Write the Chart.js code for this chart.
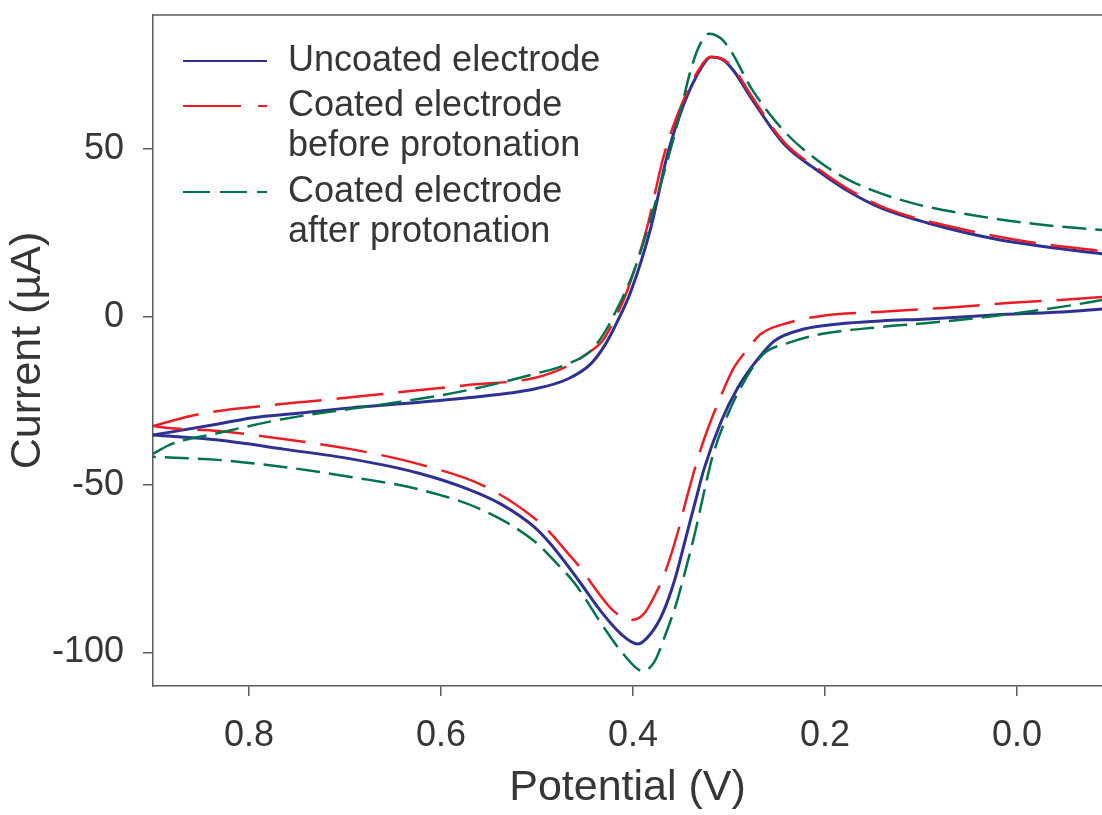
<!DOCTYPE html>
<html>
<head>
<meta charset="utf-8">
<title>Cyclic voltammograms</title>
<script src="https://cdn.jsdelivr.net/npm/chart.js@4"></script>
<style>
  html, body { margin: 0; padding: 0; background: #fff; }
  #wrap { position: relative; width: 1102px; height: 815px; }
</style>
</head>
<body>
<div id="wrap"><canvas id="cv"></canvas></div>
<script>
// Cyclic voltammograms. Each curve is split into its forward scan (0.9 V -> -0.09 V)
// and its reverse scan (-0.09 V -> 0.9 V) so each half is monotone in x.

var uncoatedForwardV = [0.900, 0.832, 0.798, 0.746, 0.694, 0.642, 0.572, 0.503, 0.468, 0.444, 0.428, 0.416, 0.402, 0.381, 0.364, 0.347, 0.329, 0.319, 0.306, 0.295, 0.277, 0.243, 0.207, 0.173, 0.142, 0.093, 0.024, -0.046, -0.090];
var uncoatedForwardI = [-35.2, -31.9, -30.1, -28.6, -27.1, -25.9, -24.1, -21.5, -18.5, -14.0, -7.8, -1.2, 7.8, 27.1, 48.6, 63.5, 74.2, 77.5, 76.6, 73.3, 65.3, 51.6, 43.5, 37.0, 32.5, 28.0, 23.3, 20.3, 18.8];
var uncoatedReverseV = [-0.090, -0.046, 0.024, 0.093, 0.142, 0.186, 0.222, 0.253, 0.274, 0.291, 0.308, 0.326, 0.335, 0.344, 0.356, 0.369, 0.381, 0.395, 0.4125, 0.433, 0.457, 0.485, 0.503, 0.5375, 0.572, 0.624, 0.694, 0.764, 0.832, 0.900];
var uncoatedReverseI = [2.4, 1.5, 0.6, -0.6, -1.2, -2.1, -3.6, -7.2, -14.0, -21.2, -31.0, -45.3, -54.9, -64.7, -77.8, -88.3, -94.2, -97.5, -94.5, -87.9, -78.4, -68.0, -62.6, -55.8, -51.3, -46.5, -42.3, -39.4, -36.7, -35.2];

var beforeForwardV = [0.900, 0.851, 0.764, 0.730, 0.642, 0.572, 0.503, 0.468, 0.448, 0.432, 0.420, 0.406, 0.385, 0.368, 0.350, 0.331, 0.320, 0.307, 0.295, 0.277, 0.243, 0.207, 0.173, 0.135, 0.058, -0.011, -0.090];
var beforeForwardI = [-32.5, -28.9, -25.9, -25.0, -22.4, -20.3, -18.2, -14.6, -11.0, -7.2, -1.2, 7.8, 27.1, 48.0, 62.9, 73.9, 77.5, 76.9, 74.0, 66.0, 52.2, 44.1, 37.6, 32.2, 26.2, 22.4, 19.6];
var beforeReverseV = [-0.090, -0.0635, 0.006, 0.076, 0.145, 0.204, 0.239, 0.267, 0.282, 0.295, 0.311, 0.329, 0.345, 0.353, 0.366, 0.374, 0.389, 0.402, 0.420, 0.459, 0.468, 0.485, 0.503, 0.555, 0.624, 0.694, 0.764, 0.832, 0.884, 0.900];
var beforeReverseI = [6.0, 5.4, 4.2, 2.7, 1.5, 0.3, -1.8, -5.1, -10.1, -15.2, -25.3, -39.0, -54.9, -63.8, -75.7, -81.1, -88.6, -90.3, -87.7, -73.3, -70.4, -64.7, -59.9, -50.4, -43.8, -39.4, -36.4, -34.0, -33.1, -32.5];

var afterForwardV = [0.900, 0.881, 0.832, 0.764, 0.694, 0.642, 0.572, 0.503, 0.468, 0.444, 0.430, 0.423, 0.399, 0.374, 0.353, 0.340, 0.331, 0.321, 0.308, 0.298, 0.277, 0.243, 0.207, 0.173, 0.110, 0.041, -0.028, -0.090];
var afterForwardI = [-40.8, -37.9, -34.6, -30.4, -27.4, -25.3, -21.8, -17.0, -14.0, -10.1, -4.8, -1.2, 13.7, 36.7, 58.4, 73.5, 80.8, 84.4, 82.9, 79.3, 68.3, 55.5, 46.5, 40.5, 34.0, 30.1, 27.4, 25.9];
var afterReverseV = [-0.090, -0.046, 0.024, 0.093, 0.142, 0.204, 0.239, 0.264, 0.284, 0.301, 0.317, 0.326, 0.335, 0.345, 0.355, 0.366, 0.378, 0.390, 0.410, 0.430, 0.461, 0.480, 0.503, 0.555, 0.624, 0.694, 0.764, 0.832, 0.900];
var afterReverseI = [5.1, 3.0, 0.3, -1.8, -3.0, -5.1, -7.8, -11.0, -19.1, -28.9, -41.4, -52.2, -63.8, -75.1, -85.5, -94.5, -102.9, -105.5, -100.5, -92.7, -79.3, -73.3, -66.8, -57.8, -51.3, -47.7, -44.7, -42.6, -41.7];

var seriesLabels = [
  ['Uncoated electrode'],
  ['Coated electrode', 'before protonation'],
  ['Coated electrode', 'after protonation']
];
var xTicks = [0.8, 0.6, 0.4, 0.2, 0.0];
var yTicks = [-100, -50, 0, 50];

var FONT = "'Liberation Sans', Arial, Helvetica, sans-serif";
var TEXT = '#363636';
var AXIS = '#5a5a5a';
var colors = ['#2e3192', '#ed1c24', '#00734a'];
var dashes = [[], [47, 15], [24, 9]];
var legendDashes = [[], [58, 17], [27, 10]];
var widths = [3, 2.5, 2.5];

function toPoints(xs, ys) {
  return xs.map(function (x, i) { return { x: x, y: ys[i] }; });
}

var halves = [
  [toPoints(uncoatedForwardV, uncoatedForwardI), toPoints(uncoatedReverseV, uncoatedReverseI)],
  [toPoints(beforeForwardV, beforeForwardI), toPoints(beforeReverseV, beforeReverseI)],
  [toPoints(afterForwardV, afterForwardI), toPoints(afterReverseV, afterReverseI)]
];

var datasets = [];
halves.forEach(function (pair, i) {
  pair.forEach(function (pts, h) {
    datasets.push({
      label: seriesLabels[i].join(' ') + (h ? ' (reverse)' : ' (forward)'),
      data: pts,
      showLine: true,
      borderColor: colors[i],
      backgroundColor: colors[i],
      borderWidth: widths[i],
      borderDash: dashes[i],
      pointRadius: 0,
      cubicInterpolationMode: 'monotone',
      fill: false,
      order: 3 - i   // blue underneath, green on top
    });
  });
});

// top frame line + legend drawn by hand (labels span two lines)
var frameLegend = {
  id: 'frameLegend',
  afterDraw: function (chart) {
    var ctx = chart.ctx;
    var a = chart.chartArea;
    ctx.save();
    ctx.strokeStyle = AXIS;
    ctx.lineWidth = 1.5;
    ctx.beginPath();
    ctx.moveTo(a.left, a.top);
    ctx.lineTo(a.right, a.top);
    ctx.stroke();

    var lineY = [61, 106, 192];
    ctx.font = '36px ' + FONT;
    ctx.fillStyle = TEXT;
    ctx.textBaseline = 'middle';
    ctx.textAlign = 'left';
    seriesLabels.forEach(function (lines, i) {
      ctx.strokeStyle = colors[i];
      ctx.lineWidth = 2;
      ctx.setLineDash(legendDashes[i]);
      ctx.beginPath();
      ctx.moveTo(183, lineY[i]);
      ctx.lineTo(267, lineY[i]);
      ctx.stroke();
      ctx.setLineDash([]);
      lines.forEach(function (t, k) {
        ctx.fillText(t, 288, lineY[i] + k * 40);
      });
    });
    ctx.restore();
  }
};

new Chart(document.getElementById('cv').getContext('2d'), {
  type: 'scatter',
  data: { datasets: datasets },
  options: {
    responsive: true,
    maintainAspectRatio: false,
    animation: false,
    layout: { padding: { top: 15, right: 0, bottom: 0, left: 0 } },
    plugins: { legend: { display: false }, tooltip: { enabled: false } },
    scales: {
      x: {
        type: 'linear',
        reverse: true,
        min: -0.0885,
        max: 0.9,
        afterBuildTicks: function (axis) {
          axis.ticks = xTicks.map(function (v) { return { value: v }; });
        },
        afterFit: function (axis) {
          axis.height = 129;
          axis.paddingLeft = 0;
          axis.paddingRight = 0;
        },
        ticks: {
          color: TEXT,
          font: { family: FONT, size: 36 },
          padding: 18,
          callback: function (v) { return Number(v).toFixed(1); }
        },
        grid: { display: true, drawOnChartArea: false, drawTicks: true, tickLength: 10, color: AXIS, lineWidth: 1.5 },
        border: { display: true, color: AXIS, width: 1.5 },
        title: {
          display: true,
          text: 'Potential (V)',
          color: TEXT,
          font: { family: FONT, size: 43, lineHeight: 1 },
          padding: { top: 9, bottom: 5 }
        }
      },
      y: {
        type: 'linear',
        min: -110,
        max: 90,
        afterBuildTicks: function (axis) {
          axis.ticks = yTicks.map(function (v) { return { value: v }; });
        },
        afterFit: function (axis) {
          axis.width = 153;
          axis.paddingTop = 0;
          axis.paddingBottom = 0;
        },
        ticks: {
          color: TEXT,
          font: { family: FONT, size: 36 },
          padding: 19,
          callback: function (v) { return String(v); }
        },
        grid: { display: true, drawOnChartArea: false, drawTicks: true, tickLength: 10, color: AXIS, lineWidth: 1.5 },
        border: { display: true, color: AXIS, width: 1.5 },
        title: {
          display: true,
          text: 'Current (\u00b5A)',
          color: TEXT,
          font: { family: FONT, size: 43, lineHeight: 1 },
          padding: { top: 7, bottom: 2 }
        }
      }
    }
  },
  plugins: [frameLegend]
});
</script>
</body>
</html>
